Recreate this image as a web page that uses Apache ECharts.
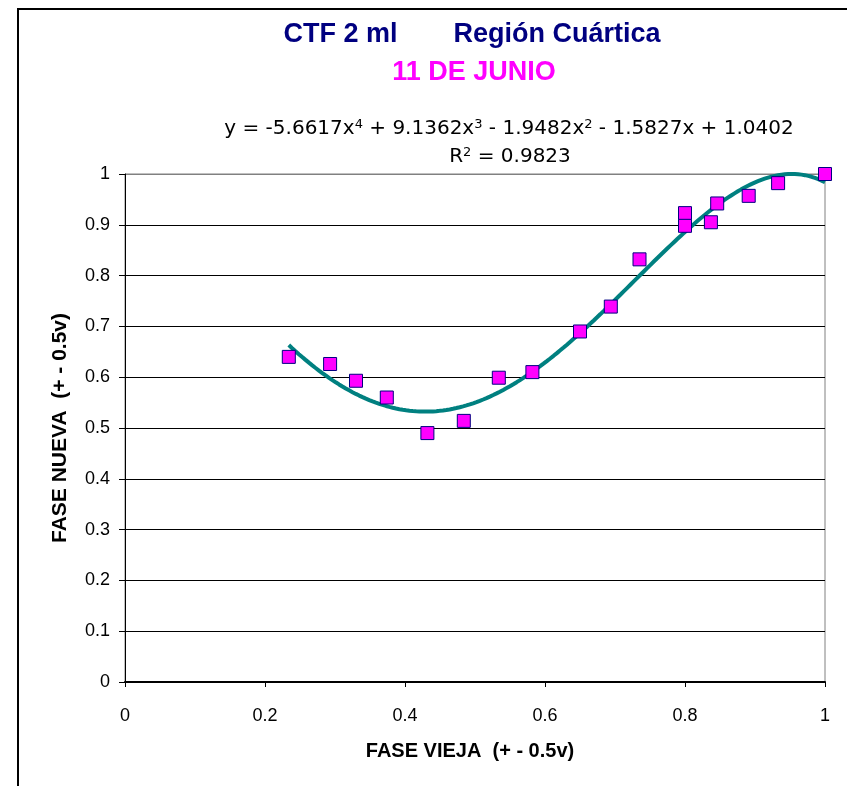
<!DOCTYPE html>
<html>
<head>
<meta charset="utf-8">
<script src="https://cdn.jsdelivr.net/npm/echarts@6/dist/echarts.min.js"></script>
<style>
  html, body { margin: 0; padding: 0; background: #fff; }
  #chart { width: 847px; height: 786px; }
</style>
</head>
<body>
<div id="chart"></div>
<script>
// Measured phases (old vs new), 11 de junio
const faseVieja = [0.234, 0.293, 0.330, 0.374, 0.432, 0.484, 0.534, 0.582, 0.650, 0.694, 0.735, 0.800, 0.800, 0.837, 0.846, 0.891, 0.933, 1.000];
const faseNueva = [0.640, 0.626, 0.593, 0.560, 0.490, 0.514, 0.599, 0.610, 0.690, 0.739, 0.832, 0.923, 0.898, 0.905, 0.942, 0.957, 0.982, 1.000];

// Quartic trend line coefficients, highest power first
const coefs = [-5.6617, 9.1362, -1.9482, -1.5827, 1.0402];
const r2 = 0.9823;
const trendRange = [0.234, 1.0];

const xTicks = ['0', '0.2', '0.4', '0.6', '0.8', '1'];
const yTicks = ['0', '0.1', '0.2', '0.3', '0.4', '0.5', '0.6', '0.7', '0.8', '0.9', '1'];

function poly(x) {
  return coefs.reduce((acc, c) => acc * x + c, 0);
}
const trend = [];
for (let i = 0; i <= 160; i++) {
  const x = trendRange[0] + (trendRange[1] - trendRange[0]) * i / 160;
  trend.push([x, poly(x)]);
}
const points = faseVieja.map((x, i) => [x, faseNueva[i]]);

function fmt(v) {
  return Math.abs(v).toFixed(4);
}
const sign = v => (v < 0 ? ' - ' : ' + ');
const eqRich = '{n|y = ' + (coefs[0] < 0 ? '-' : '') + fmt(coefs[0]) + 'x}{s|4}' +
  '{n|' + sign(coefs[1]) + fmt(coefs[1]) + 'x}{s|3}' +
  '{n|' + sign(coefs[2]) + fmt(coefs[2]) + 'x}{s|2}' +
  '{n|' + sign(coefs[3]) + fmt(coefs[3]) + 'x' + sign(coefs[4]) + fmt(coefs[4]) + '}';
const r2Rich = '{n|R}{s|2}{n| = ' + r2.toFixed(4) + '}';

const FONT = '"Liberation Sans", Arial, sans-serif';
const EQFONT = '"DejaVu Sans", "Liberation Sans", sans-serif';
const splitColors = yTicks.map((t, i) => (i === yTicks.length - 1 ? '#808080' : '#000000'));

const eqStyles = {
  n: { fontFamily: EQFONT, fontSize: 20, fontWeight: 'normal', color: '#000', lineHeight: 26, verticalAlign: 'middle' },
  s: { fontFamily: EQFONT, fontSize: 13, fontWeight: 'normal', color: '#000', lineHeight: 13, verticalAlign: 'top', padding: [2, 0, 0, 0] }
};

const chart = echarts.init(document.getElementById('chart'), null, { renderer: 'canvas' });
chart.setOption({
  backgroundColor: '#ffffff',
  animation: false,
  graphic: [
    {
      type: 'rect',
      shape: { x: 18, y: 9, width: 900, height: 900 },
      style: { fill: 'none', stroke: '#000', lineWidth: 2 },
      silent: true
    }
  ],
  title: [
    {
      text: '{a|CTF 2 ml}{g|}{a|Región Cuártica}',
      left: 467, top: 16, textAlign: 'center',
      textStyle: {
        rich: {
          a: { fontFamily: FONT, fontSize: 27, fontWeight: 'bold', color: '#000080' },
          g: { width: 56 }
        }
      }
    },
    {
      text: '11 DE JUNIO',
      left: 469, top: 54, textAlign: 'center',
      textStyle: { fontFamily: FONT, fontSize: 27, fontWeight: 'bold', color: '#ff00ff' }
    },
    {
      text: eqRich,
      left: 504, top: 111, textAlign: 'center',
      textStyle: { fontWeight: 'normal', rich: eqStyles }
    },
    {
      text: r2Rich,
      left: 505, top: 139, textAlign: 'center',
      textStyle: { fontWeight: 'normal', rich: eqStyles }
    }
  ],
  grid: {
    left: 125, top: 174, width: 700, height: 508,
    show: true, borderColor: '#808080', borderWidth: 1, backgroundColor: '#fff'
  },
  xAxis: {
    type: 'value', min: 0, max: 1, interval: 0.2,
    name: 'FASE VIEJA  (+ - 0.5v)', nameLocation: 'middle', nameGap: 59,
    nameTextStyle: { fontFamily: FONT, fontSize: 20, fontWeight: 'bold', color: '#000', padding: [0, 10, 0, 0] },
    axisLine: { lineStyle: { color: '#000', width: 2 } },
    axisTick: { show: true, length: 5, lineStyle: { color: '#000' } },
    axisLabel: {
      fontFamily: FONT, fontSize: 18, color: '#000', margin: 25,
      formatter: v => xTicks[Math.round(v / 0.2)]
    },
    splitLine: { show: false }
  },
  yAxis: {
    type: 'value', min: 0, max: 1, interval: 0.1,
    name: 'FASE NUEVA  (+ - 0.5v)', nameLocation: 'middle', nameGap: 54,
    nameTextStyle: { fontFamily: FONT, fontSize: 21, fontWeight: 'bold', color: '#000' },
    axisLine: { show: true, lineStyle: { color: '#000', width: 1 } },
    axisTick: { show: true, length: 6, lineStyle: { color: '#000' } },
    axisLabel: {
      fontFamily: FONT, fontSize: 18, color: '#000', margin: 15,
      formatter: v => yTicks[Math.round(v * 10)]
    },
    splitLine: { show: true, lineStyle: { color: splitColors, width: 1 } }
  },
  series: [
    {
      name: 'Tendencia',
      type: 'line',
      data: trend,
      showSymbol: false,
      smooth: false,
      lineStyle: { color: '#008080', width: 4 },
      z: 3
    },
    {
      name: 'Fase',
      type: 'scatter',
      data: points,
      symbol: 'rect',
      symbolSize: 13,
      itemStyle: { color: '#ff00ff', borderColor: '#000080', borderWidth: 1, opacity: 1 },
      z: 4
    }
  ]
});
</script>
</body>
</html>
